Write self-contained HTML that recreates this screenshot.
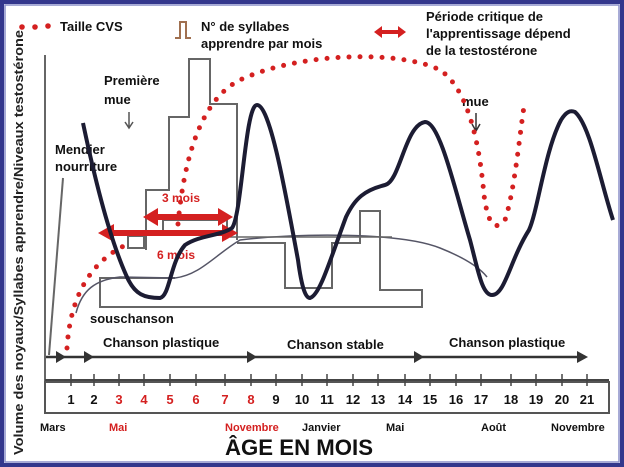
<!DOCTYPE html>
<html><head><meta charset="utf-8"><style>
html,body{margin:0;padding:0;background:#fff}
svg{display:block}
text{font-family:"Liberation Sans",sans-serif;font-weight:bold}
.r{fill:#d42020}
.k{fill:#111}
</style></head><body>
<svg width="624" height="467" viewBox="0 0 624 467" xmlns="http://www.w3.org/2000/svg">
<rect x="0" y="0" width="624" height="467" fill="#fff"/>
<rect x="2" y="2" width="620" height="463" fill="none" stroke="#33378c" stroke-width="4"/>
<rect x="5" y="5" width="614" height="457" fill="none" stroke="#8a8fc8" stroke-width="1.5"/>

<!-- y axis label -->
<text transform="translate(23,455) rotate(-90)" font-size="13" style="fill:#222" textLength="425" lengthAdjust="spacingAndGlyphs">Volume des noyaux/Syllabes apprendre/Niveaux  testostérone</text>

<!-- axis lines -->
<line x1="45" y1="55" x2="45" y2="413" stroke="#666" stroke-width="2"/>
<line x1="63" y1="178" x2="49" y2="355" stroke="#666" stroke-width="2"/>
<rect x="45" y="382" width="564" height="31" fill="none" stroke="#555" stroke-width="2"/>
<line x1="45" y1="380" x2="609" y2="380" stroke="#444" stroke-width="2"/>
<g stroke="#444" stroke-width="1.5">
<line x1="71" y1="374" x2="71" y2="386"/><line x1="94" y1="374" x2="94" y2="386"/><line x1="119" y1="374" x2="119" y2="386"/><line x1="144" y1="374" x2="144" y2="386"/><line x1="170" y1="374" x2="170" y2="386"/><line x1="196" y1="374" x2="196" y2="386"/><line x1="225" y1="374" x2="225" y2="386"/><line x1="251" y1="374" x2="251" y2="386"/><line x1="276" y1="374" x2="276" y2="386"/><line x1="302" y1="374" x2="302" y2="386"/><line x1="327" y1="374" x2="327" y2="386"/><line x1="353" y1="374" x2="353" y2="386"/><line x1="378" y1="374" x2="378" y2="386"/><line x1="405" y1="374" x2="405" y2="386"/><line x1="430" y1="374" x2="430" y2="386"/><line x1="456" y1="374" x2="456" y2="386"/><line x1="481" y1="374" x2="481" y2="386"/><line x1="511" y1="374" x2="511" y2="386"/><line x1="536" y1="374" x2="536" y2="386"/><line x1="562" y1="374" x2="562" y2="386"/><line x1="587" y1="374" x2="587" y2="386"/>
</g>
<g font-size="13" text-anchor="middle">
<text class="k" x="71" y="404">1</text><text class="k" x="94" y="404">2</text><text class="r" x="119" y="404">3</text><text class="r" x="144" y="404">4</text><text class="r" x="170" y="404">5</text><text class="r" x="196" y="404">6</text><text class="r" x="225" y="404">7</text><text class="r" x="251" y="404">8</text><text class="k" x="276" y="404">9</text><text class="k" x="302" y="404">10</text><text class="k" x="327" y="404">11</text><text class="k" x="353" y="404">12</text><text class="k" x="378" y="404">13</text><text class="k" x="405" y="404">14</text><text class="k" x="430" y="404">15</text><text class="k" x="456" y="404">16</text><text class="k" x="481" y="404">17</text><text class="k" x="511" y="404">18</text><text class="k" x="536" y="404">19</text><text class="k" x="562" y="404">20</text><text class="k" x="587" y="404">21</text>
</g>
<g font-size="11">
<text class="k" x="40" y="431">Mars</text><text class="r" x="109" y="431">Mai</text><text class="r" x="225" y="431">Novembre</text><text class="k" x="302" y="431">Janvier</text><text class="k" x="386" y="431">Mai</text><text class="k" x="481" y="431">Août</text><text class="k" x="551" y="431">Novembre</text>
</g>
<text class="k" x="299" y="455" font-size="22" text-anchor="middle" textLength="148" lengthAdjust="spacingAndGlyphs">ÂGE EN MOIS</text>

<!-- song phase arrow -->
<line x1="46" y1="357" x2="580" y2="357" stroke="#333" stroke-width="2.5"/>
<g fill="#333">
<polygon points="56,351 66,357 56,363"/><polygon points="84,351 94,357 84,363"/><polygon points="247,351 257,357 247,363"/><polygon points="414,351 424,357 414,363"/><polygon points="577,351 588,357 577,363"/>
</g>
<g font-size="13">
<text class="k" x="103" y="347">Chanson plastique</text>
<text class="k" x="287" y="349">Chanson stable</text>
<text class="k" x="449" y="347">Chanson plastique</text>
<text class="k" x="90" y="323">souschanson</text>
</g>

<!-- legend -->
<g fill="#d42020"><circle cx="22" cy="27" r="2.8"/><circle cx="35" cy="27" r="2.8"/><circle cx="48" cy="26" r="2.8"/></g>
<text class="k" x="60" y="31" font-size="13">Taille CVS</text>
<path d="M175,38 L180,38 L180,22 L186,22 L186,38 L191,38" fill="none" stroke="#a07050" stroke-width="2"/>
<text class="k" x="201" y="31" font-size="13">N° de syllabes</text>
<text class="k" x="201" y="48" font-size="13">apprendre par mois</text>
<polygon points="374,32 382,26 382,30 398,30 398,26 406,32 398,38 398,34 382,34 382,38" fill="#d42020"/>
<g font-size="13"><text class="k" x="426" y="21">Période critique de</text><text class="k" x="426" y="38">l'apprentissage dépend</text><text class="k" x="426" y="55">de la testostérone</text></g>

<g font-size="13"><text class="k" x="104" y="85">Première</text><text class="k" x="104" y="104">mue</text>
<text class="k" x="55" y="154">Mendier</text><text class="k" x="55" y="171">nourriture</text>
<text class="k" x="462" y="106">mue</text></g>
<path d="M129,112 L129,127 M125,122 L129,128 L133,122" stroke="#555" stroke-width="1.5" fill="none"/>
<path d="M476,113 L476,130 M472,124 L476,131 L480,124" stroke="#333" stroke-width="1.5" fill="none"/>

<!-- histogram -->
<g fill="none" stroke="#666" stroke-width="2">
<path d="M146,250 L146,190 L169,190 L169,117 L189,117 L189,59 L210,59 L210,104 L237,104 L237,240"/>
<path d="M237,243 L285,243 L285,288 L332,288 L332,243 L360,243 L360,211 L380,211 L380,290 L422,290 L422,307 L100,307 L100,278 L175,278"/>
<rect x="163" y="220" width="64" height="12"/>
<rect x="128" y="236" width="16" height="12"/>
</g>
<!-- thin curve -->
<path d="M76,313 C82,290 95,280 120,277 L175,278 C200,275 215,255 240,240 C300,233 400,232 440,248 C465,258 480,268 487,277" fill="none" stroke="#556" stroke-width="1.5"/>
<line x1="230" y1="237" x2="392" y2="237" stroke="#666" stroke-width="1.5"/>

<!-- red arrows -->
<g fill="#d42020">
<rect x="112" y="230" width="112" height="6"/><polygon points="98,233 114,224 114,242"/><polygon points="238,233 222,224 222,242"/>
<rect x="156" y="214" width="64" height="6"/><polygon points="143,217 158,208 158,226"/><polygon points="233,217 218,208 218,226"/>
</g>
<g font-size="12"><text class="r" x="162" y="202">3 mois</text><text class="r" x="157" y="259">6 mois</text></g>

<!-- red dotted CVS -->
<g fill="none" stroke="#d42020" stroke-width="5" stroke-linecap="round" stroke-dasharray="0 11">
<path d="M67,348 C70,300 88,262 128,244"/>
<path d="M178,224 C184,160 200,100 240,80 C300,52 400,50 440,70 C470,90 480,150 484,195 C488,225 495,232 505,220 C515,190 520,130 525,100"/>
</g>

<!-- thick curve -->
<path d="M83,123 C95,180 110,240 127,277 C135,295 145,298 160,298 C170,296 170,262 185,245 C200,235 220,236 232,228 C242,215 245,105 257,105 C270,105 285,190 298,260 C302,290 306,298 310,298 C320,295 330,260 346,217 C355,198 365,190 385,185 C400,182 405,125 425,122 C440,122 455,190 470,240 C478,270 482,295 492,295 C505,295 510,260 529,230 C538,210 545,150 561,120 C566,112 570,110 575,112 C590,125 600,180 613,220" fill="none" stroke="#1c1c33" stroke-width="4" stroke-linejoin="round"/>
</svg>
</body></html>
